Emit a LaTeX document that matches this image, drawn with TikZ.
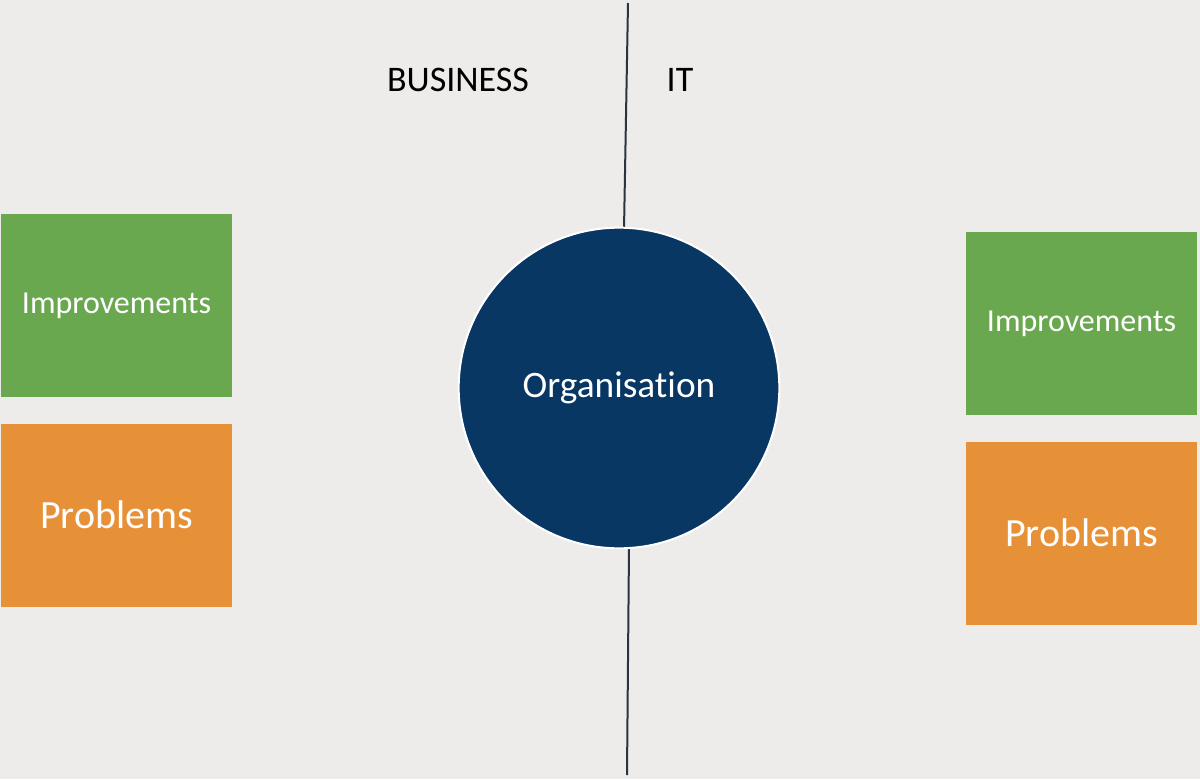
\documentclass[tikz,border=0pt]{standalone}
\usepackage{fontspec}
\setmainfont[Ligatures=NoCommon]{Carlito}
\usetikzlibrary{positioning}

\definecolor{bgcol}{HTML}{EEECEA}
\definecolor{gooditem}{HTML}{6AA84F}
\definecolor{baditem}{HTML}{E69138}
\definecolor{orgblue}{HTML}{083763}
\definecolor{divider}{HTML}{2A3340}

\begin{document}
\begin{tikzpicture}[x=0.75pt, y=-0.75pt, node distance=19.5pt,
                item box/.style={rectangle, minimum width=173.25pt, minimum height=137.25pt,
                  inner sep=0pt, text=white},
                good box/.style={item box, fill=gooditem, font=\fontsize{24}{28}\selectfont},
                bad box/.style={item box, fill=baditem, font=\fontsize{30}{34}\selectfont},
                side label/.style={font=\fontsize{27}{32}\selectfont, text=black}]

      \fill[bgcol] (0,0) rectangle (1200,779);
      \useasboundingbox (0,0) rectangle (1200,779);

      % dividing line
      \coordinate (T1) at (628,3);
      \coordinate (T2) at (624,230);
      \coordinate (B1) at (629,547);
      \coordinate (B2) at (627,775);
      \draw[divider, line width=1.5pt] (T1) -- (T2);
      \draw[divider, line width=1.5pt] (B1) -- (B2);

      \node[side label] (business) at (458,80) {BUSINESS};
      \node[side label] (it) at (680,80) {IT};

      \node[circle, fill=orgblue, draw=white, line width=1.5pt, minimum size=240.5pt,
            inner sep=0pt, text=white, font=\fontsize{28}{32}\selectfont] (org) at (619,388) {Organisation};

      \node[good box] (BI) at (116.5,305.5) {Improvements};
      \node[bad box] (BP) [below=of BI] {Problems};
      \node[good box] (II) at (1081.5,323.5) {Improvements};
      \node[bad box] (IP) [below=of II] {Problems};
  \end{tikzpicture}
\end{document}
